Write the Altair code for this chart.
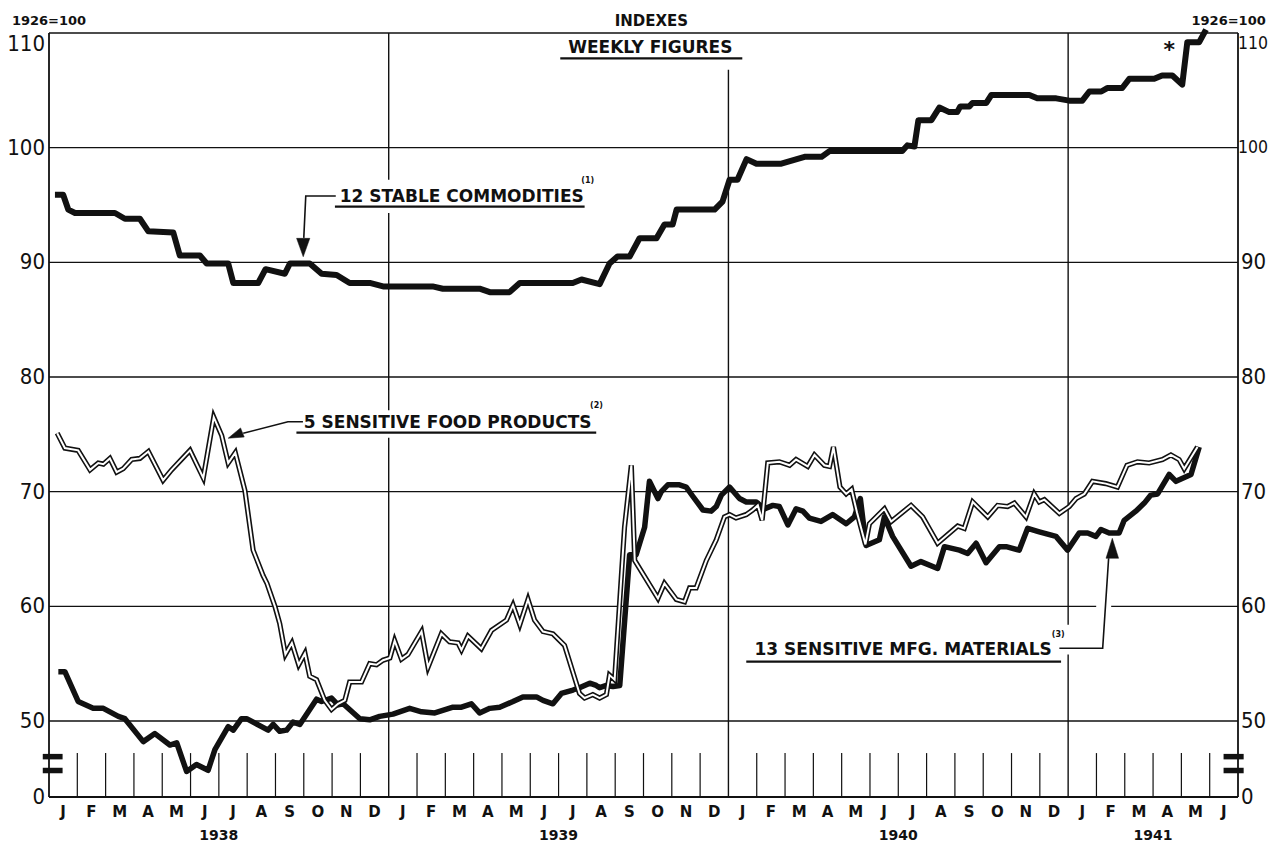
import altair as alt
import pandas as pd

# ------------------------------------------------------------------
# DATA  (x = months elapsed since 1 Jan 1938; 42 = 1 Jul 1941)
# ------------------------------------------------------------------
stable_month = [0.21, 0.50, 0.68, 0.92, 2.33, 2.68, 3.21, 3.51, 4.39, 4.62,
                5.33, 5.57, 6.33, 6.51, 7.39, 7.65, 8.33, 8.51, 9.21, 9.63,
                10.16, 10.62, 11.33, 11.80, 13.55, 13.91, 15.21, 15.57, 16.27, 16.63,
                18.50, 18.81, 19.45, 19.80, 20.08, 20.51, 20.86, 21.46, 21.74, 22.03,
                22.17, 23.51, 23.79, 24.04, 24.32, 24.64, 24.99, 25.87, 26.69, 27.29,
                27.57, 30.14, 30.32, 30.57, 30.71, 31.17, 31.45, 31.80, 32.08, 32.19,
                32.51, 32.62, 33.11, 33.29, 34.63, 34.91, 35.58, 36.04, 36.50, 36.75,
                37.17, 37.38, 37.91, 38.16, 39.04, 39.32, 39.68, 40.03, 40.21, 40.63,
                40.87]
stable_index = [95.9, 95.9, 94.6, 94.3, 94.3, 93.8, 93.8, 92.7, 92.6, 90.6,
                90.6, 89.9, 89.9, 88.2, 88.2, 89.4, 89.0, 89.9, 89.9, 89.0,
                88.9, 88.2, 88.2, 87.9, 87.9, 87.7, 87.7, 87.4, 87.4, 88.2,
                88.2, 88.5, 88.1, 89.9, 90.5, 90.5, 92.1, 92.1, 93.3, 93.3,
                94.6, 94.6, 95.3, 97.2, 97.2, 99.0, 98.6, 98.6, 99.2, 99.2,
                99.7, 99.7, 100.2, 100.1, 102.4, 102.4, 103.5, 103.1, 103.1, 103.6,
                103.6, 103.9, 103.9, 104.6, 104.6, 104.3, 104.3, 104.1, 104.1, 104.9,
                104.9, 105.2, 105.2, 106.0, 106.0, 106.3, 106.3, 105.5, 109.2, 109.2,
                110.3]

food_month = [0.29, 0.56, 1.03, 1.45, 1.74, 1.92, 2.15, 2.39, 2.62, 2.92,
              3.21, 3.51, 4.03, 4.33, 4.98, 5.45, 5.82, 6.10, 6.33, 6.58,
              6.92, 7.21, 7.56, 7.70, 7.98, 8.15, 8.35, 8.58, 8.82, 9.04,
              9.21, 9.45, 9.74, 9.98, 10.21, 10.45, 10.62, 11.04, 11.33, 11.57,
              11.80, 12.04, 12.21, 12.45, 12.68, 13.16, 13.39, 13.86, 14.15, 14.45,
              14.57, 14.80, 15.27, 15.63, 16.16, 16.39, 16.63, 16.92, 17.15, 17.45,
              17.80, 18.21, 18.74, 18.92, 19.21, 19.45, 19.69, 19.80, 19.98, 20.33,
              20.57, 20.69, 21.51, 21.74, 22.16, 22.45, 22.63, 22.86, 23.22, 23.57,
              23.86, 24.04, 24.27, 24.63, 24.86, 25.04, 25.19, 25.39, 25.80, 26.16,
              26.39, 26.80, 27.04, 27.39, 27.57, 27.71, 27.94, 28.16, 28.35, 28.54,
              28.84, 28.98, 29.51, 29.75, 30.45, 30.86, 31.39, 32.10, 32.33, 32.63,
              33.16, 33.51, 33.86, 34.10, 34.51, 34.80, 34.98, 35.16, 35.69, 36.04,
              36.28, 36.57, 36.86, 37.33, 37.74, 38.08, 38.45, 38.86, 39.33, 39.63,
              39.92, 40.10, 40.57]
food_index = [75.1, 73.8, 73.6, 71.9, 72.5, 72.4, 72.9, 71.7, 72.0, 72.8,
              72.9, 73.5, 71.0, 71.9, 73.6, 71.2, 76.5, 74.9, 72.5, 73.4,
              70.1, 64.9, 62.7, 62.0, 60.0, 58.5, 55.8, 56.8, 54.9, 55.9,
              53.9, 53.6, 51.8, 51.0, 51.5, 51.8, 53.4, 53.4, 55.0, 54.9,
              55.3, 55.5, 57.0, 55.4, 55.8, 57.8, 54.7, 57.6, 56.9, 56.8,
              56.2, 57.4, 56.3, 57.9, 58.8, 60.1, 58.4, 60.6, 58.8, 57.8,
              57.6, 56.6, 52.4, 52.0, 52.3, 52.0, 52.3, 54.0, 53.6, 66.9,
              72.3, 64.0, 60.7, 62.0, 60.6, 60.4, 61.6, 61.6, 64.0, 65.8,
              67.8, 68.0, 67.7, 68.0, 68.4, 68.8, 67.5, 72.5, 72.6, 72.3,
              72.8, 72.2, 73.2, 72.3, 72.2, 73.9, 70.4, 69.8, 70.2, 68.2,
              65.4, 67.2, 68.5, 67.4, 68.8, 67.8, 65.5, 67.0, 66.8, 69.1,
              67.8, 68.8, 68.7, 69.0, 67.8, 69.8, 69.1, 69.3, 68.1, 68.7,
              69.4, 69.8, 70.9, 70.7, 70.4, 72.3, 72.6, 72.5, 72.8, 73.2,
              72.8, 72.0, 73.9]

mfg_month = [0.33, 0.56, 1.03, 1.56, 1.92, 2.45, 2.68, 3.33, 3.74, 4.27,
             4.51, 4.86, 5.21, 5.62, 5.86, 6.33, 6.51, 6.80, 6.98, 7.74,
             7.92, 8.15, 8.39, 8.62, 8.86, 9.45, 9.63, 9.98, 10.21, 10.39,
             10.98, 11.33, 11.68, 12.15, 12.74, 13.16, 13.63, 14.27, 14.57, 14.92,
             15.21, 15.57, 15.92, 16.39, 16.74, 17.22, 17.45, 17.80, 18.10, 18.51,
             18.74, 19.10, 19.33, 19.45, 19.69, 19.92, 20.16, 20.51, 20.74, 21.04,
             21.21, 21.51, 21.63, 21.86, 22.27, 22.51, 22.74, 23.10, 23.39, 23.57,
             23.75, 24.04, 24.39, 24.63, 24.98, 25.27, 25.57, 25.80, 26.10, 26.39,
             26.63, 26.86, 27.27, 27.68, 28.16, 28.45, 28.66, 28.86, 29.33, 29.51,
             29.80, 30.45, 30.80, 31.39, 31.63, 32.16, 32.45, 32.75, 33.10, 33.57,
             33.81, 34.27, 34.57, 34.98, 35.57, 35.98, 36.39, 36.69, 36.98, 37.16,
             37.45, 37.80, 37.98, 38.39, 38.69, 38.92, 39.16, 39.57, 39.81, 40.34,
             40.63]
mfg_index = [54.3, 54.3, 51.7, 51.1, 51.1, 50.4, 50.2, 48.2, 48.9, 47.9,
             48.1, 45.6, 46.2, 45.7, 47.5, 49.5, 49.2, 50.2, 50.2, 49.2,
             49.7, 49.1, 49.2, 49.9, 49.7, 51.9, 51.7, 52.0, 51.4, 51.5,
             50.2, 50.1, 50.4, 50.6, 51.1, 50.8, 50.7, 51.2, 51.2, 51.5,
             50.7, 51.1, 51.2, 51.7, 52.1, 52.1, 51.8, 51.5, 52.4, 52.7,
             52.9, 53.3, 53.1, 52.9, 53.1, 53.0, 53.1, 64.5, 64.5, 66.9,
             70.9, 69.4, 70.0, 70.6, 70.6, 70.4, 69.6, 68.4, 68.3, 68.7,
             69.7, 70.4, 69.4, 69.1, 69.1, 68.5, 68.8, 68.7, 67.1, 68.5,
             68.3, 67.7, 67.4, 68.0, 67.2, 67.8, 69.4, 65.3, 65.8, 67.8,
             66.1, 63.5, 63.9, 63.3, 65.2, 64.9, 64.6, 65.5, 63.8, 65.2,
             65.2, 64.9, 66.8, 66.5, 66.1, 64.9, 66.4, 66.4, 66.1, 66.7,
             66.4, 66.4, 67.5, 68.3, 69.0, 69.7, 69.8, 71.5, 70.9, 71.5,
             73.9]

assert len(stable_month) == len(stable_index)
assert len(food_month) == len(food_index)
assert len(mfg_month) == len(mfg_index)

MONTH_LETTERS = ["J", "F", "M", "A", "M", "J", "J", "A", "S", "O", "N", "D"]
N_MONTHS = 42
YEARS = ["1938", "1939", "1940", "1941"]
YEAR_LABEL_POS = [6, 18, 30, 39]
GRID_VALUES = [50, 60, 70, 80, 90, 100, 110]
Y_LABELS = ["0", "50", "60", "70", "80", "90", "100", "110"]
BREAK = 43.37            # where the broken axis shows its "0"
Y_LABEL_POS = [BREAK, 50, 60, 70, 80, 90, 100, 109.0]

# ------------------------------------------------------------------
INK = "#111111"
NUM_FONT = "DejaVu Sans Condensed, Liberation Sans, sans-serif"
LET_FONT = "DejaVu Sans"
XS = alt.Scale(domain=[0, N_MONTHS], nice=False, zero=False)
YS = alt.Scale(domain=[BREAK, 110], nice=False, zero=False)


def segs(x0, x1, y0, y1, width, color=INK):
    df = pd.DataFrame({"x0": x0, "x1": x1, "y0": y0, "y1": y1})
    return alt.Chart(df).mark_rule(color=color, strokeWidth=width, strokeCap="butt").encode(
        x=alt.X("x0:Q", scale=XS, axis=None), x2="x1:Q",
        y=alt.Y("y0:Q", scale=YS, axis=None), y2="y1:Q")


def texts(xv, yv, tv, **kw):
    df = pd.DataFrame({"x": xv, "y": yv, "t": tv})
    return alt.Chart(df).mark_text(color=INK, **kw).encode(
        x=alt.X("x:Q", scale=XS, axis=None),
        y=alt.Y("y:Q", scale=YS, axis=None),
        text="t:N")


def line(xv, yv, width, color=INK, join="miter"):
    df = pd.DataFrame({"x": xv, "y": yv, "i": list(range(len(xv)))})
    return alt.Chart(df).mark_line(color=color, strokeWidth=width, strokeJoin=join).encode(
        x=alt.X("x:Q", scale=XS, axis=None),
        y=alt.Y("y:Q", scale=YS, axis=None),
        order="i:Q")


def arrowhead(xv, yv, shape, size, angle=0):
    df = pd.DataFrame({"x": [xv], "y": [yv]})
    return alt.Chart(df).mark_point(shape=shape, size=size, filled=True, fill=INK,
                                    stroke=INK, strokeWidth=0.5, opacity=1, angle=angle).encode(
        x=alt.X("x:Q", scale=XS, axis=None),
        y=alt.Y("y:Q", scale=YS, axis=None))


layers = []

# horizontal grid (60 line has a small gap for the arrow)
gx0, gx1, gy = [], [], []
for v in GRID_VALUES:
    if v == 60:
        gx0 += [0, 37.52]; gx1 += [36.99, N_MONTHS]; gy += [v, v]
    else:
        gx0.append(0); gx1.append(N_MONTHS); gy.append(v)
layers.append(segs(gx0, gx1, gy, gy, 1.3))

# year division lines (with gaps behind labels)
layers.append(segs([12, 12, 12, 24, 36, 36], [12, 12, 12, 24, 36, 36],
                   [BREAK, 77.1, 97.2, BREAK, BREAK, 58.4],
                   [74.7, 94.3, 110, 106.8, 55.8, 110], 1.4))

# month ticks
tick_m = [m for m in range(1, N_MONTHS) if m % 12 != 0]
layers.append(segs(tick_m, tick_m, [BREAK] * len(tick_m), [47.2] * len(tick_m), 1.2))

# frame: left, right, bottom
layers.append(segs([0, N_MONTHS, 0], [0, N_MONTHS, N_MONTHS],
                   [BREAK, BREAK, BREAK], [110, 110, BREAK], 1.8))

# axis-break marks
layers.append(segs([-0.22, -0.22, 41.49, 41.49], [0.48, 0.48, 42.2, 42.2],
                   [46.89, 45.68, 46.89, 45.68], [46.89, 45.68, 46.89, 45.68], 5.5))

# series
layers.append(line(mfg_month, mfg_index, 5.5, join="round"))
layers.append(line(stable_month, stable_index, 6, join="round"))
layers.append(line(food_month, food_index, 5.2))
layers.append(line(food_month, food_index, 2.0, color="white"))

# axis labels (left full size; on the right the 3-digit ones are smaller to stay on the page)
layers.append(texts([0] * len(Y_LABELS), Y_LABEL_POS, Y_LABELS, align="right", baseline="middle",
                    dx=-4, font=NUM_FONT, fontSize=22))
short_pos = [p for p, t in zip(Y_LABEL_POS, Y_LABELS) if len(t) < 3]
short_txt = [t for t in Y_LABELS if len(t) < 3]
long_pos = [p for p, t in zip(Y_LABEL_POS, Y_LABELS) if len(t) == 3]
long_txt = [t for t in Y_LABELS if len(t) == 3]
layers.append(texts([N_MONTHS] * len(short_txt), short_pos, short_txt, align="left", baseline="middle",
                    dx=3, font=NUM_FONT, fontSize=22))
layers.append(texts([N_MONTHS] * len(long_txt), long_pos, long_txt, align="left", baseline="middle",
                    dx=0, font=NUM_FONT, fontSize=17.5))
month_pos = [m + 0.5 for m in range(N_MONTHS)]
month_txt = [MONTH_LETTERS[m % 12] for m in range(N_MONTHS)]
layers.append(texts(month_pos, [BREAK] * N_MONTHS, month_txt, align="center", baseline="middle",
                    dy=15, font=LET_FONT, fontSize=15, fontWeight="bold"))
layers.append(texts(YEAR_LABEL_POS, [BREAK] * 4, YEARS, align="center", baseline="middle",
                    dy=39, font=LET_FONT, fontSize=14, fontWeight="bold"))

# header texts
layers.append(texts([-1.31], [111.04], ["1926=100"], align="left", baseline="middle",
                    font=LET_FONT, fontSize=13, fontWeight="bold"))
layers.append(texts([42.98], [111.04], ["1926=100"], align="right", baseline="middle",
                    font=LET_FONT, fontSize=13, fontWeight="bold"))
layers.append(texts([21.28], [111.04], ["INDEXES"], align="center", baseline="middle",
                    font=LET_FONT, fontSize=15, fontWeight="bold"))
layers.append(texts([21.24], [108.67], ["WEEKLY FIGURES"], align="center", baseline="middle",
                    font=LET_FONT, fontSize=17, fontWeight="bold"))

# series labels
layers.append(texts([10.27, 9.0, 24.92], [95.74, 76.0, 56.19],
                    ["12 STABLE COMMODITIES", "5 SENSITIVE FOOD PRODUCTS", "13 SENSITIVE MFG. MATERIALS"],
                    align="left", baseline="middle", font=LET_FONT, fontSize=17, fontWeight="bold"))
layers.append(texts([19.03, 19.34, 35.65], [97.11, 77.49, 57.46], ["(1)", "(2)", "(3)"],
                    align="center", baseline="middle", font=LET_FONT, fontSize=8, fontWeight="bold"))
layers.append(texts([39.57], [108.5], ["*"], align="center", baseline="middle",
                    font=LET_FONT, fontSize=22, fontWeight="bold"))

# underlines
layers.append(segs([18.06, 10.10, 8.74, 24.63], [24.49, 18.92, 19.33, 35.75],
                   [107.79, 94.85, 75.14, 55.17], [107.79, 94.85, 75.14, 55.17], 2.2))

# leaders
layers.append(line([10.13, 9.07, 9.0], [95.78, 95.78, 92.13], 1.6))
layers.append(line([8.97, 8.44, 6.86], [76.10, 76.10, 75.09], 1.6))
layers.append(line([35.69, 37.22, 37.43], [56.34, 56.34, 64.19], 1.6))

# arrowheads
layers.append(arrowhead(8.98, 91.29, "M-0.72,-1L0.72,-1L0,1Z", 339))
layers.append(arrowhead(6.58, 74.91, "M1,0L-1,-0.64L-1,0.64Z", 234, angle=158))
layers.append(arrowhead(37.56, 65.06, "M0,-1L0.63,1L-0.63,1Z", 400))

chart = alt.layer(*layers).properties(
    width=1189, height=764,
    autosize=alt.AutoSizeParams(type="none"),
    padding={"left": 41, "top": 25, "right": 30, "bottom": 45},
    background="white",
).configure_view(stroke=None)

chart.save("out.html", embed_options={"renderer": "svg", "actions": False})
